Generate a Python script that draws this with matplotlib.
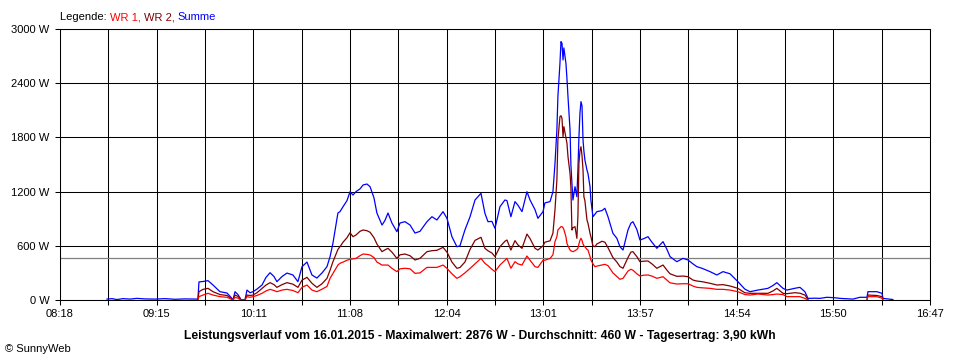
import numpy as np
import matplotlib
matplotlib.use("Agg")
import matplotlib.pyplot as plt

plt.rcParams['font.family'] = ['Liberation Sans', 'DejaVu Sans']

nan = np.nan

# Zeitpunkte (Minuten ab Mitternacht)
zeit = [
    525.5, 528.4, 531.3, 534.9, 539.0, 543.0, 547.7, 553.6, 559.4, 565.3,
    571.1, 577.0, 578.7, 579.3, 581.7, 584.6, 587.5, 591.6, 595.7, 598.0,
    599.2, 600.4, 602.1, 603.9, 606.2, 607.4, 609.2, 610.9, 613.2, 616.2,
    618.5, 620.9, 623.2, 624.9, 627.9, 630.8, 634.3, 637.2, 639.6, 642.5,
    645.4, 648.3, 651.3, 654.2, 656.0, 657.7, 660.6, 661.8, 663.6, 665.9,
    667.7, 669.4, 671.2, 673.5, 675.3, 677.6, 679.4, 681.7, 683.4, 686.4,
    688.1, 689.9, 692.2, 695.1, 696.9, 699.8, 702.8, 705.7, 708.6, 712.7,
    715.6, 718.5, 722.1, 724.4, 727.3, 730.2, 732.0, 734.9, 737.9, 740.8,
    744.3, 746.6, 748.4, 750.7, 752.5, 755.4, 758.3, 759.5, 761.8, 764.2,
    765.9, 768.3, 771.2, 773.0, 775.9, 777.6, 780.6, 781.7, 784.7, 786.4,
    787.6, 788.7, 789.3, 790.5, 791.1, 791.7, 792.3, 792.8, 794.0, 794.6,
    795.2, 796.4, 796.9, 797.5, 798.1, 799.3, 800.4, 801.0, 801.6, 802.2,
    802.8, 803.4, 804.0, 804.5, 805.1, 806.3, 806.9, 808.1, 808.6, 809.8,
    811.0, 812.1, 815.1, 816.8, 818.6, 821.5, 823.8, 825.6, 827.4, 830.3,
    832.0, 833.2, 835.5, 837.3, 839.6, 842.0, 844.3, 847.2, 850.8, 853.1,
    854.9, 858.9, 862.5, 865.4, 868.3, 870.6, 873.6, 878.3, 882.3, 885.9,
    890.0, 894.6, 898.7, 901.7, 906.3, 912.2, 915.1, 917.4, 921.0, 923.3,
    928.0, 930.9, 933.8, 935.6, 939.7, 942.6, 946.7, 951.4, 954.3, 961.9,
    966.0, 970.1, 970.7, 975.9, 978.9, 979.5, 985.3,
]

# Summe (W)
summe = [
    10, 15, 5, 15, 10, 18, 12, 10, 15, 8,
    12, 10, 10, 200, 205, 214, 166, 92, 77, 30,
    0, 92, 60, 5, 0, 110, 80, 92, 120, 166,
    250, 302, 260, 203, 260, 298, 277, 203, 369, 420,
    277, 243, 300, 369, 480, 630, 963, 978, 1033, 1100,
    1199, 1162, 1200, 1230, 1273, 1284, 1254, 1130, 963, 830,
    880, 963, 852, 756, 852, 867, 830, 741, 760, 867,
    922, 886, 978, 904, 701, 590, 600, 775, 922, 1107,
    1181, 960, 867, 870, 793, 1033, 1107, 1100, 922, 1089,
    1050, 978, 1199, 1107, 1000, 904, 978, 1075, 1089, 1199,
    1513, 1882, 2251, 2620, 2860, 2841, 2657, 2790, 2620, 2450,
    2251, 1882, 1500, 1292, 1107, 1254, 1144, 1439, 1800, 2067,
    2196, 2150, 1771, 1650, 1550, 1439, 1400, 1254, 1107, 922,
    950, 978, 990, 1015, 922, 738, 683, 590, 553, 775,
    850, 867, 780, 664, 680, 701, 640, 572, 646, 560,
    480, 424, 461, 443, 400, 369, 351, 314, 277, 314,
    290, 203, 120, 92, 110, 129, 160, 192, 129, 110,
    130, 140, 92, 18, 20, 18, 30, 25, 18, 10,
    30, 30, 92, 92, 74, 18, 5,
]

# WR 2 (W)
wr2 = [
    nan, nan, nan, nan, nan, nan, nan, nan, nan, nan,
    nan, nan, 0, 92, 118, 129, 92, 60, 50, 20,
    0, 55, 40, 0, 0, 55, 50, 55, 80, 129,
    165, 192, 170, 140, 170, 192, 175, 140, 220, 251,
    185, 140, 180, 240, 330, 424, 560, 590, 640, 690,
    745, 701, 720, 760, 775, 767, 750, 690, 620, 535,
    555, 572, 530, 461, 500, 509, 490, 443, 461, 535,
    546, 550, 583, 530, 420, 351, 360, 420, 560, 660,
    694, 572, 545, 520, 480, 590, 650, 664, 553, 657,
    610, 572, 730, 680, 572, 553, 600, 640, 655, 740,
    1000, 1328, 1771, 2030, 2040, 2011, 1808, 1919, 1800, 1735,
    1587, 1400, 1254, 775, 800, 812, 683, 922, 1513, 1650,
    1697, 1600, 1439, 1144, 1100, 886, 849, 738, 701, 600,
    590, 620, 650, 640, 580, 470, 420, 370, 351, 470,
    530, 535, 480, 424, 430, 432, 400, 351, 387, 330,
    290, 262, 265, 258, 221, 210, 203, 185, 166, 170,
    155, 129, 80, 74, 74, 74, 100, 129, 74, 70,
    81, 75, 55, 5, nan, nan, nan, nan, nan, nan,
    nan, 0, 55, 50, 37, 0, nan,
]

# WR 1 (W)
wr1 = [
    nan, nan, nan, nan, nan, nan, nan, nan, nan, nan,
    nan, nan, 0, 37, 55, 74, 55, 37, 30, 10,
    0, 30, 20, 0, 0, 37, 30, 37, 50, 74,
    100, 118, 105, 92, 110, 118, 105, 81, 140, 166,
    110, 92, 120, 150, 240, 295, 387, 406, 420, 440,
    450, 455, 461, 490, 509, 505, 498, 470, 420, 387,
    387, 387, 350, 314, 345, 351, 345, 295, 300, 361,
    361, 361, 387, 350, 290, 240, 258, 300, 350, 400,
    461, 406, 380, 340, 314, 387, 440, 461, 351, 424,
    400, 387, 487, 440, 369, 361, 440, 440, 460, 500,
    646, 700, 775, 800, 812, 812, 800, 780, 700, 627,
    600, 553, 545, 540, 535, 545, 560, 572, 620, 660,
    683, 660, 620, 600, 590, 560, 553, 480, 443, 400,
    369, 375, 387, 395, 380, 300, 260, 229, 240, 320,
    340, 330, 290, 266, 275, 277, 265, 240, 258, 220,
    190, 177, 180, 180, 155, 140, 135, 129, 118, 118,
    110, 92, 60, 55, 66, 55, 60, 66, 60, 37,
    37, 37, 18, 0, nan, nan, nan, nan, nan, nan,
    nan, 0, 37, 37, 20, 0, nan,
]

x_labels = ["08:18", "09:15", "10:11", "11:08", "12:04", "13:01", "13:57", "14:54", "15:50", "16:47"]
x_start = 498   # 08:18
x_end = 1007    # 16:47
y_ticks = [0, 600, 1200, 1800, 2400, 3000]
durchschnitt = 460

titel = ("Leistungsverlauf vom 16.01.2015 - Maximalwert: 2876 W - "
         "Durchschnitt: 460 W - Tagesertrag: 3,90 kWh")

fig = plt.figure(figsize=(9.6, 3.6), dpi=100)
ax = fig.add_axes([60/960, 60/360, 870/960, 271/360])

ax.set_xlim(x_start, x_end)
ax.set_ylim(0, 3000)

# Gitter
ax.set_xticks(np.linspace(x_start, x_end, len(x_labels)))
ax.set_xticklabels(x_labels)
ax.set_xticks(np.linspace(x_start, x_end, 2 * len(x_labels) - 1), minor=True)
ax.set_yticks(y_ticks)
ax.set_yticklabels([f"{v} W" for v in y_ticks])
ax.grid(True, which='both', axis='x', color='black', lw=0.75)
ax.grid(True, which='major', axis='y', color='black', lw=0.75)
ax.set_axisbelow(True)
ax.tick_params(axis='x', which='both', length=3.6, width=0.75, pad=3, labelsize=8)
ax.tick_params(axis='y', length=3.6, width=0.75, pad=4, labelsize=8)
for s in ax.spines.values():
    s.set_linewidth(0.75)

# Durchschnittslinie
ax.axhline(durchschnitt, color='#808080', lw=0.9, zorder=1.5)

ax.plot(zeit, summe, color='#0000ff', lw=0.9)
ax.plot(zeit, wr2, color='#800000', lw=0.9)
ax.plot(zeit, wr1, color='#ff0000', lw=0.9)

# Legende oben links
t = fig.text(60/960, 1 - 17/360, "Legende: ", fontsize=8, va='center', ha='left')
for txt, col in [("WR 1, ", '#ff0000'), ("WR 2, ", '#800000'), ("Summe", '#0000ff')]:
    t = ax.annotate(txt, xy=(1, 0), xycoords=t, va='bottom', ha='left', fontsize=8, color=col)

fig.text(0.5, 1 - 336/360, titel, fontsize=8.7, fontweight='bold', ha='center', va='center')
fig.text(5/960, 1 - 349/360, "© SunnyWeb", fontsize=8, ha='left', va='center')

fig.savefig("out.png", dpi=100)
